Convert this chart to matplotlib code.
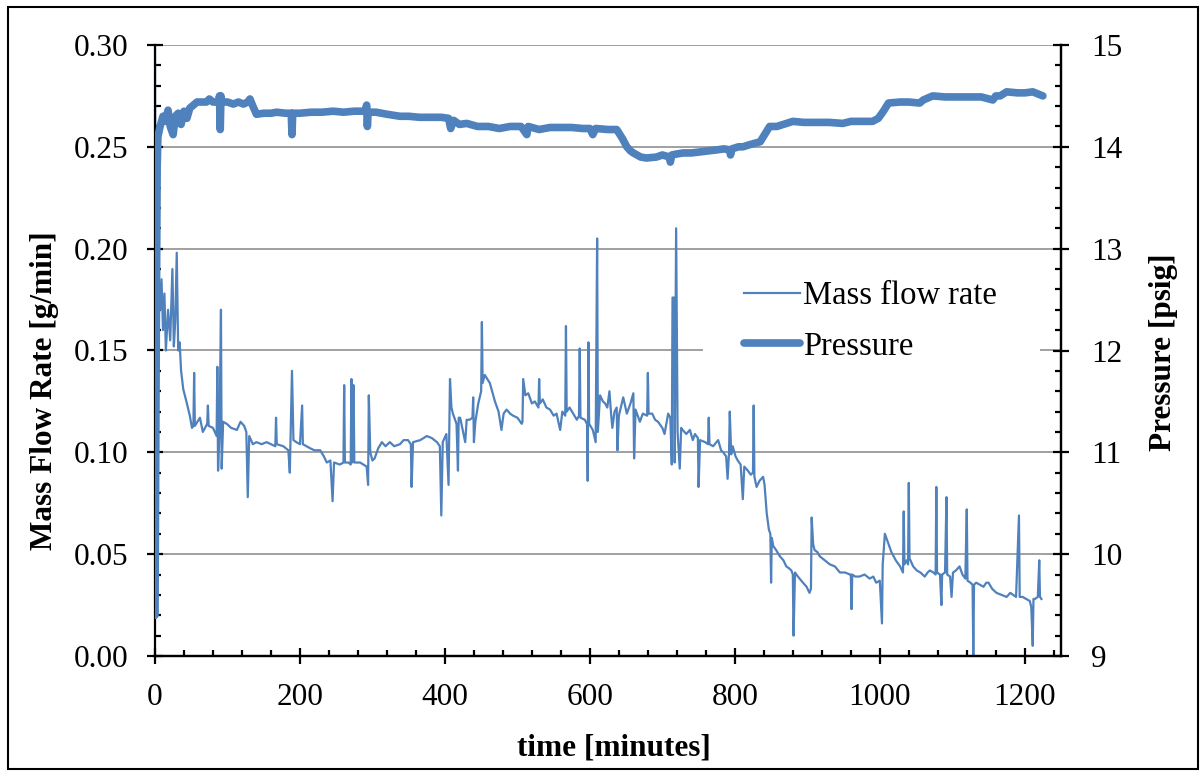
import numpy as np
import matplotlib
matplotlib.use('Agg')
import matplotlib.pyplot as plt
from matplotlib.ticker import MultipleLocator, FormatStrFormatter
from matplotlib.patches import Rectangle

plt.rcParams['font.family'] = ['Liberation Serif', 'DejaVu Serif']

# mass flow rate [g/min] vs time [minutes]
flow_t = [0, 1.5, 3, 5, 7, 9, 11, 13, 15, 18, 21, 24, 26, 28, 30, 32, 34, 36, 39, 44, 48, 51, 53, 54, 55,
          62, 66, 72, 73, 74, 80, 85, 86, 87, 89, 91, 92, 94, 99, 105, 113, 118, 123, 126, 128, 130, 135,
          140, 147, 154, 160, 166, 167, 168, 177, 184, 186, 189, 191, 195, 200, 203, 204, 214, 220, 228,
          233, 237, 242, 245, 247, 255, 260, 261, 262, 267, 270, 271, 272, 274, 275, 283, 292, 294, 295,
          297, 300, 303, 308, 313, 318, 324, 330, 338, 343, 349, 353, 354, 356, 366, 375, 382, 389, 393,
          395, 397, 402, 405, 407, 409, 411, 416, 418, 419, 421, 428, 430, 434, 438, 439, 440, 442, 446,
          450, 451, 452, 455, 462, 469, 474, 478, 481, 485, 490, 494, 500, 506, 507, 508, 511, 515, 520,
          524, 529, 530, 531, 535, 540, 545, 550, 554, 559, 562, 566, 567, 568, 572, 577, 582, 585, 586,
          587, 593, 596, 597, 598, 599, 604, 608, 610, 611, 614, 618, 621, 624, 627, 629, 631, 634, 637,
          638, 640, 646, 651, 656, 660, 661, 663, 669, 673, 679, 680, 681, 686, 690, 694, 700, 703, 708,
          711, 713, 714, 716, 717, 719, 721, 724, 726, 728, 733, 738, 742, 745, 749, 750, 752, 759, 763,
          764, 765, 770, 777, 781, 784, 788, 790, 792, 793, 795, 797, 801, 804, 808, 811, 813, 818, 822,
          825, 826, 827, 830, 834, 839, 841, 844, 847, 849, 850, 851, 853, 857, 862, 867, 871, 875, 878,
          880, 881, 883, 887, 894, 899, 903, 905, 906, 908, 910, 914, 917, 924, 931, 938, 945, 952, 959,
          960, 961, 962, 966, 972, 979, 986, 991, 995, 1000, 1003, 1004, 1007, 1010, 1016, 1022, 1028,
          1032, 1033, 1034, 1037, 1039, 1040, 1041, 1046, 1051, 1056, 1062, 1066, 1069, 1074, 1077, 1078,
          1079, 1083, 1085, 1086, 1090, 1092, 1093, 1097, 1099, 1101, 1105, 1110, 1114, 1118, 1120, 1121,
          1125, 1128, 1129, 1130, 1133, 1138, 1143, 1147, 1150, 1155, 1161, 1168, 1175, 1180, 1184, 1188,
          1192, 1193, 1197, 1202, 1207, 1209, 1211, 1212, 1214, 1218, 1220, 1221, 1223]
flow_v = [0.300, 0.066, 0.195, 0.190, 0.170, 0.185, 0.160, 0.178, 0.150, 0.170, 0.155, 0.190, 0.152, 0.165,
          0.198, 0.150, 0.154, 0.140, 0.131, 0.124, 0.118, 0.112, 0.113, 0.139, 0.113,
          0.117, 0.110, 0.114, 0.123, 0.113, 0.112, 0.108, 0.142, 0.091, 0.110, 0.170, 0.092, 0.115, 0.114,
          0.112, 0.111, 0.115, 0.113, 0.110, 0.078, 0.108, 0.104,
          0.105, 0.104, 0.105, 0.104, 0.103, 0.117, 0.104, 0.103, 0.101, 0.090, 0.140, 0.106, 0.105, 0.104,
          0.123, 0.104, 0.102, 0.101, 0.101,
          0.098, 0.095, 0.096, 0.076, 0.095, 0.094, 0.095, 0.133, 0.095, 0.095, 0.094, 0.136, 0.095, 0.133,
          0.095, 0.095, 0.093, 0.084, 0.128,
          0.100, 0.096, 0.097, 0.102, 0.105, 0.103, 0.105, 0.103, 0.104, 0.106, 0.106, 0.104, 0.083, 0.105,
          0.106, 0.108, 0.107, 0.105, 0.103,
          0.069, 0.105, 0.109, 0.084, 0.136, 0.122, 0.119, 0.114, 0.091, 0.117, 0.117, 0.105, 0.116, 0.116,
          0.117, 0.127, 0.105, 0.115, 0.124,
          0.130, 0.164, 0.134, 0.138, 0.134, 0.125, 0.120, 0.111, 0.119, 0.121, 0.119, 0.118, 0.117, 0.114,
          0.115, 0.136, 0.128, 0.129, 0.124,
          0.125, 0.122, 0.136, 0.124, 0.126, 0.122, 0.121, 0.118, 0.119, 0.111, 0.120, 0.118, 0.162, 0.120,
          0.122, 0.119, 0.116, 0.118, 0.151,
          0.117, 0.116, 0.114, 0.086, 0.154, 0.114, 0.111, 0.105, 0.205, 0.110, 0.128, 0.125, 0.124, 0.122,
          0.130, 0.120, 0.112, 0.120, 0.122,
          0.101, 0.118, 0.127, 0.119, 0.124, 0.129, 0.097, 0.121, 0.115, 0.119, 0.118, 0.139, 0.119, 0.119,
          0.116, 0.115, 0.112, 0.109, 0.119,
          0.117, 0.094, 0.176, 0.176, 0.095, 0.210, 0.110, 0.092, 0.112, 0.111, 0.109, 0.111, 0.106, 0.109,
          0.107, 0.083, 0.106, 0.105, 0.104,
          0.117, 0.104, 0.103, 0.106, 0.101, 0.100, 0.098, 0.087, 0.100, 0.120, 0.099, 0.103, 0.098, 0.096,
          0.094, 0.077, 0.093, 0.091, 0.089,
          0.090, 0.123, 0.088, 0.083, 0.086, 0.088, 0.084, 0.070, 0.062, 0.060, 0.036, 0.058, 0.054, 0.052,
          0.049, 0.047, 0.044, 0.043, 0.042,
          0.040, 0.010, 0.041, 0.039, 0.036, 0.034, 0.031, 0.033, 0.068, 0.055, 0.052, 0.051, 0.049, 0.047,
          0.045, 0.044, 0.041, 0.041, 0.040,
          0.040, 0.023, 0.040, 0.039, 0.039, 0.040, 0.038, 0.039, 0.036, 0.037, 0.016, 0.045, 0.060, 0.057,
          0.051, 0.047, 0.044,
          0.041, 0.071, 0.045, 0.047, 0.045, 0.085, 0.048, 0.044, 0.042, 0.041, 0.039, 0.041, 0.042, 0.041,
          0.040, 0.083,
          0.041, 0.040, 0.025, 0.040, 0.041, 0.078, 0.040, 0.039, 0.029, 0.041, 0.042, 0.044, 0.040, 0.038,
          0.072, 0.037,
          0.036, 0.035, 0.000, 0.035, 0.036, 0.035, 0.034, 0.036, 0.036, 0.033, 0.031, 0.030, 0.029, 0.031,
          0.030, 0.029,
          0.069, 0.029, 0.029, 0.028, 0.027, 0.024, 0.005, 0.028, 0.028, 0.029, 0.047, 0.029, 0.028]

# pressure [psig] vs time [minutes]
pres_t = [0, 2, 3, 4, 7, 11, 14, 18, 21, 25, 28, 32, 36, 40, 44, 48, 53, 58, 65, 71, 75, 80, 88, 89, 90, 91,
          92, 100, 108, 115, 122, 128, 131, 135, 140, 150, 160, 168, 180, 188, 189, 190, 200, 215, 230, 246,
          260, 275, 290, 292, 293, 294, 305, 320, 338, 350, 365, 380, 395, 405, 408, 412, 420, 430, 445, 460,
          475, 490, 505, 513, 515, 530, 545, 560, 575, 590, 600, 604, 608, 625, 637, 645, 651, 656, 660, 670,
          678, 692, 700, 710, 711, 713, 720, 729, 740, 752, 765, 775, 785, 793, 794, 796, 805, 811, 820, 830,
          835, 842, 848, 858, 867, 880, 895, 913, 930, 949, 960, 975, 990, 998, 1005, 1012, 1028, 1040, 1055,
          1060, 1073, 1090, 1105, 1120, 1140, 1156, 1160, 1166, 1175, 1190, 1200, 1211, 1218, 1225]
pres_v = [9.4, 12.5, 13.8, 14.1, 14.2, 14.3, 14.25, 14.36, 14.2, 14.12, 14.3, 14.33, 14.22, 14.35, 14.28,
          14.38, 14.41, 14.44, 14.44, 14.44, 14.47, 14.44, 14.44, 14.5, 14.17, 14.5,
          14.44, 14.44, 14.42, 14.44, 14.42, 14.44, 14.47, 14.40, 14.32, 14.33, 14.33, 14.34, 14.33, 14.33,
          14.12, 14.33, 14.33, 14.34, 14.34, 14.35,
          14.34, 14.35, 14.35, 14.41, 14.2, 14.34, 14.34, 14.32, 14.3, 14.3, 14.29, 14.29, 14.29, 14.28,
          14.18, 14.26, 14.22, 14.23, 14.2, 14.2,
          14.18, 14.2, 14.2, 14.12, 14.2, 14.17, 14.19, 14.19, 14.19, 14.18, 14.18, 14.12, 14.18, 14.17,
          14.17, 14.08, 14.0, 13.96, 13.94, 13.9,
          13.89, 13.9, 13.92, 13.9, 13.85, 13.92, 13.93, 13.94, 13.94, 13.95, 13.96, 13.97, 13.98, 13.97,
          13.92, 13.98, 14.0, 14.0, 14.02, 14.04,
          14.05, 14.13, 14.2, 14.2, 14.22, 14.25, 14.24, 14.24, 14.24, 14.23, 14.25, 14.25, 14.25, 14.28,
          14.35, 14.43, 14.44, 14.44, 14.43,
          14.46, 14.5, 14.49, 14.49, 14.49, 14.49, 14.46, 14.5, 14.5, 14.54, 14.53, 14.53, 14.54, 14.52, 14.5]

blue = '#4F81BD'
fs = 22.5

fig = plt.figure(figsize=(12.02, 7.72), dpi=100)
ax = fig.add_axes([155/1202, 1-656/772, (1061-155)/1202, (656-45)/772])
ax2 = ax.twinx()

l1, = ax.plot(flow_t, flow_v, color=blue, lw=1.6, label='Mass flow rate', zorder=2)
l2, = ax2.plot(pres_t, pres_v, color=blue, lw=5.5, solid_capstyle='round',
               solid_joinstyle='round', label='Pressure')

ax.set_xlim(0, 1250)
ax.set_ylim(0, 0.30)
ax2.set_ylim(9, 15)

ax.xaxis.set_major_locator(MultipleLocator(200))
ax.xaxis.set_minor_locator(MultipleLocator(40))
ax.yaxis.set_major_locator(MultipleLocator(0.05))
ax.yaxis.set_minor_locator(MultipleLocator(0.01))
ax.yaxis.set_major_formatter(FormatStrFormatter('%.2f'))
ax2.yaxis.set_major_locator(MultipleLocator(1))
ax2.yaxis.set_minor_locator(MultipleLocator(0.2))

ax.grid(axis='y', which='major', color='#868686', lw=1.1)
ax.set_axisbelow(True)

for a in (ax, ax2):
    a.spines['top'].set_visible(False)
    for s in a.spines.values():
        s.set_linewidth(1.6)
        s.set_color('black')
ax2.spines['left'].set_visible(False)

ax.tick_params(axis='x', which='major', direction='inout', length=11.5, width=1.6, pad=14, labelsize=fs)
ax.tick_params(axis='x', which='minor', direction='in', length=4, width=1.6)
ax.tick_params(axis='y', which='major', direction='inout', length=11.5, width=1.6, pad=13.5, labelsize=fs)
ax.tick_params(axis='y', which='minor', direction='in', length=4, width=1.6)
ax2.tick_params(axis='y', which='major', direction='inout', length=11.5, width=1.6, pad=16, labelsize=fs)
ax2.tick_params(axis='y', which='minor', direction='in', length=4, width=1.6)

fig.text(45/1202, 1-391/772, 'Mass Flow Rate [g/min]', rotation=90, ha='center', va='center',
         fontsize=22.5, fontweight='bold')
fig.text(1164/1202, 1-352/772, 'Pressure [psig]', rotation=90, ha='center', va='center',
         fontsize=22.5, fontweight='bold')
fig.text(614/1202, 1-748/772, 'time [minutes]', ha='center', va='center',
         fontsize=22.5, fontweight='bold')

# white legend background (hides the gridline behind the legend)
ax.add_patch(Rectangle((0.605, 0.47), 0.372, 0.065, transform=ax.transAxes,
                       facecolor='white', edgecolor='none', zorder=1))
leg = ax2.legend(handles=[l1, l2], loc='center left', bbox_to_anchor=(0.607, 0.548),
                 fontsize=23.5, frameon=False, borderaxespad=0, borderpad=1.2,
                 handlelength=1.7, handletextpad=0.1, labelspacing=0.62)

fig.patches.append(Rectangle((8/1202, 1-769/772), (1198-8)/1202, (769-7)/772,
                             transform=fig.transFigure, fill=False, ec='black', lw=1.5))

fig.savefig('out.png', dpi=100)
